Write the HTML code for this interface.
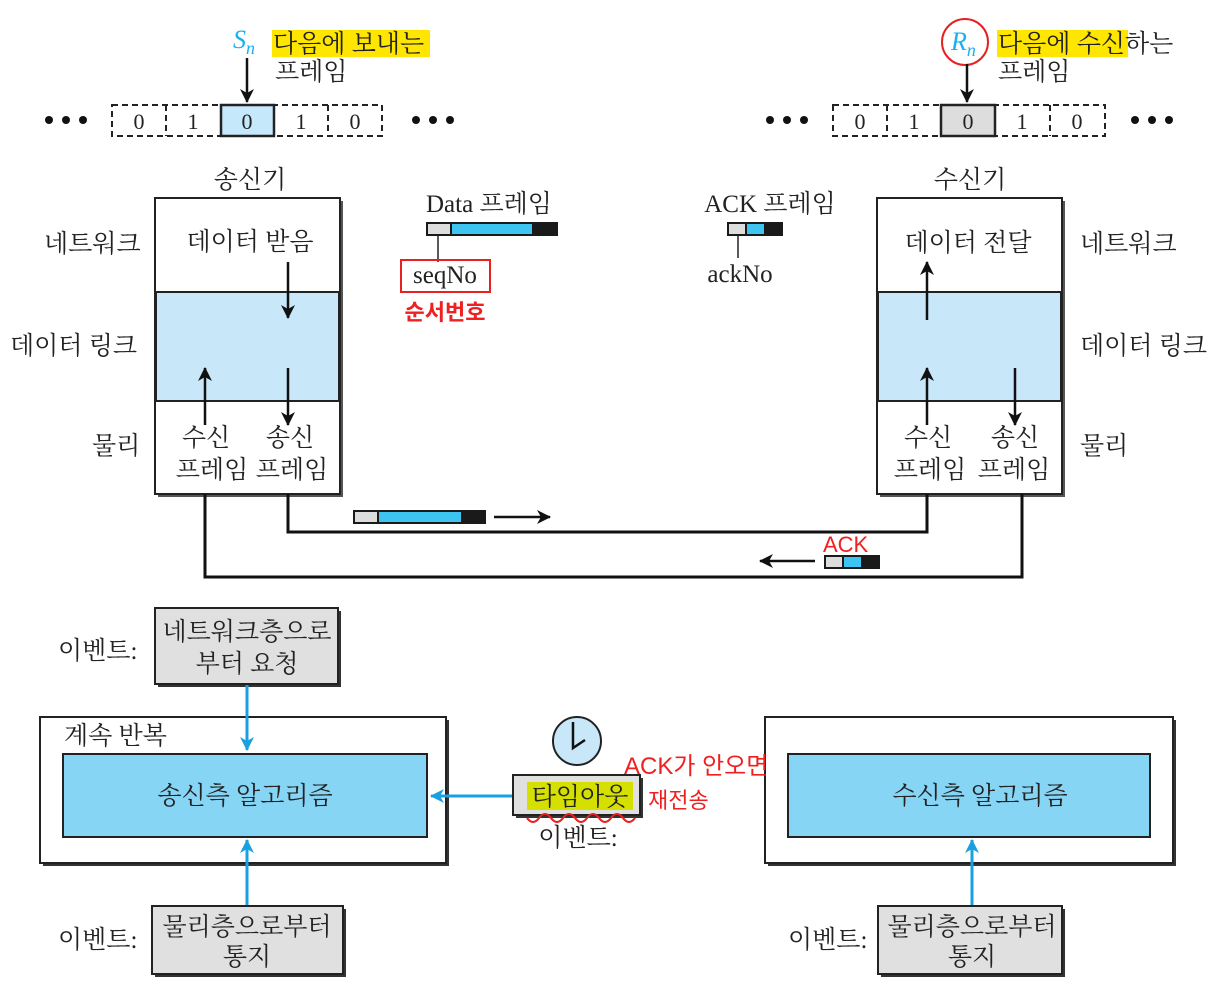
<!DOCTYPE html>
<html><head><meta charset="utf-8"><style>
body{margin:0;background:#fff}
svg text{font-family:"Liberation Serif","Noto Serif CJK SC","Noto Sans CJK KR",serif;fill:#222}
.r{fill:#f02020!important;font-family:"Liberation Sans","Noto Sans CJK KR",sans-serif!important}
</style></head><body>
<svg width="1232" height="1000" viewBox="0 0 1232 1000" xmlns="http://www.w3.org/2000/svg">
<defs>
<marker id="ak" markerWidth="14" markerHeight="14" refX="13" refY="7" orient="auto" markerUnits="userSpaceOnUse"><path d="M0,0 L14,7 L0,14 L4,7z" fill="#111"/></marker>
<marker id="ab" markerWidth="14" markerHeight="14" refX="13" refY="7" orient="auto" markerUnits="userSpaceOnUse"><path d="M0,0 L14,7 L0,14 L4,7z" fill="#1aa0e0"/></marker>
</defs>
<g fill="#111">
<circle cx="49" cy="120" r="4"/><circle cx="66" cy="120" r="4"/><circle cx="83" cy="120" r="4"/>
<circle cx="416" cy="120" r="4"/><circle cx="433" cy="120" r="4"/><circle cx="450" cy="120" r="4"/>
<circle cx="770" cy="120" r="4"/><circle cx="787" cy="120" r="4"/><circle cx="804" cy="120" r="4"/>
<circle cx="1135" cy="120" r="4"/><circle cx="1152" cy="120" r="4"/><circle cx="1169" cy="120" r="4"/>
</g>
<g stroke="#222" stroke-width="2" fill="none" stroke-dasharray="6,4">
<rect x="112" y="105" width="270" height="31"/>
<line x1="166" y1="105" x2="166" y2="136"/><line x1="328" y1="105" x2="328" y2="136"/>
<rect x="833" y="105" width="272" height="31"/>
<line x1="887" y1="105" x2="887" y2="136"/><line x1="1050" y1="105" x2="1050" y2="136"/>
</g>
<rect x="221" y="105" width="53" height="31" fill="#c5e8fa" stroke="#222" stroke-width="2.5"/>
<rect x="941" y="105" width="54" height="31" fill="#ddd" stroke="#222" stroke-width="2.5"/>
<g font-size="22" text-anchor="middle">
<text x="139" y="129">0</text><text x="193" y="129">1</text><text x="247" y="129">0</text><text x="301" y="129">1</text><text x="355" y="129">0</text>
<text x="860" y="129">0</text><text x="914" y="129">1</text><text x="968" y="129">0</text><text x="1022" y="129">1</text><text x="1077" y="129">0</text>
</g>
<text x="233" y="48" font-size="26" font-style="italic" style="fill:#1ab0ee">S<tspan font-size="18" dy="6">n</tspan></text>
<line x1="247" y1="58" x2="247" y2="102" stroke="#111" stroke-width="2.5" marker-end="url(#ak)"/>
<rect x="272" y="30" width="158" height="27" fill="#ffe600"/>
<text x="273" y="52" font-size="25">다음에 보내는</text>
<text x="275" y="80" font-size="25">프레임</text>
<circle cx="965" cy="42" r="23" fill="none" stroke="#e82020" stroke-width="2"/>
<text x="951" y="50" font-size="26" font-style="italic" style="fill:#1ab0ee">R<tspan font-size="18" dy="6">n</tspan></text>
<line x1="967" y1="64" x2="967" y2="102" stroke="#111" stroke-width="2.5" marker-end="url(#ak)"/>
<rect x="997" y="30" width="131" height="27" fill="#ffe600"/>
<text x="998" y="52" font-size="25">다음에 수신하는</text>
<text x="998" y="80" font-size="25">프레임</text>
<g>
<rect x="158" y="201" width="185" height="296" fill="#555"/>
<rect x="155" y="198" width="185" height="296" fill="#fff" stroke="#222" stroke-width="2"/>
<rect x="156" y="292" width="183" height="109" fill="#c8e8f9" stroke="#222" stroke-width="2"/>
<rect x="880" y="201" width="185" height="296" fill="#555"/>
<rect x="877" y="198" width="185" height="296" fill="#fff" stroke="#222" stroke-width="2"/>
<rect x="878" y="292" width="183" height="109" fill="#c8e8f9" stroke="#222" stroke-width="2"/>
</g>
<g font-size="25">
<text x="250" y="188" text-anchor="middle">송신기</text>
<text x="970" y="188" text-anchor="middle">수신기</text>
<text x="44" y="252">네트워크</text><text x="10" y="354">데이터 링크</text><text x="92" y="454">물리</text>
<text x="1080" y="252">네트워크</text><text x="1080" y="354">데이터 링크</text><text x="1080" y="454">물리</text>
<text x="250" y="250" text-anchor="middle">데이터 받음</text>
<text x="968" y="251" text-anchor="middle">데이터 전달</text>
<text x="206" y="446" text-anchor="middle">수신</text><text x="212" y="478" text-anchor="middle">프레임</text>
<text x="290" y="446" text-anchor="middle">송신</text><text x="292" y="478" text-anchor="middle">프레임</text>
<text x="928" y="446" text-anchor="middle">수신</text><text x="930" y="478" text-anchor="middle">프레임</text>
<text x="1015" y="446" text-anchor="middle">송신</text><text x="1014" y="478" text-anchor="middle">프레임</text>
</g>
<g stroke="#111" stroke-width="2.5" fill="none">
<line x1="288" y1="262" x2="288" y2="318" marker-end="url(#ak)"/>
<line x1="288" y1="368" x2="288" y2="425" marker-end="url(#ak)"/>
<line x1="205" y1="425" x2="205" y2="368" marker-end="url(#ak)"/>
<line x1="927" y1="320" x2="927" y2="262" marker-end="url(#ak)"/>
<line x1="927" y1="425" x2="927" y2="368" marker-end="url(#ak)"/>
<line x1="1015" y1="368" x2="1015" y2="425" marker-end="url(#ak)"/>
<polyline points="288,494 288,532 927,532 927,494" stroke-width="3"/>
<polyline points="205,494 205,577 1022,577 1022,494" stroke-width="3"/>
<line x1="494" y1="517" x2="550" y2="517" marker-end="url(#ak)"/>
<line x1="815" y1="561" x2="760" y2="561" marker-end="url(#ak)"/>
</g>
<text x="426" y="212" font-size="25">Data 프레임</text>
<rect x="426" y="222" width="132" height="14" fill="#1a1a1a"/><rect x="428" y="224" width="22" height="10" fill="#ddd"/><rect x="452" y="224" width="80" height="10" fill="#3ec4f0"/>
<line x1="438" y1="236" x2="438" y2="262" stroke="#222" stroke-width="1.5"/>
<rect x="401" y="260" width="89" height="32" fill="none" stroke="#e82020" stroke-width="2"/>
<text x="445" y="283" font-size="25" text-anchor="middle">seqNo</text>
<text x="445" y="320" font-size="22" class="r" text-anchor="middle" font-weight="bold">순서번호</text>
<text x="770" y="212" font-size="25" text-anchor="middle">ACK 프레임</text>
<rect x="727" y="222" width="56" height="14" fill="#1a1a1a"/><rect x="729" y="224" width="16" height="10" fill="#ddd"/><rect x="747" y="224" width="17" height="10" fill="#3ec4f0"/>
<line x1="738" y1="236" x2="738" y2="258" stroke="#222" stroke-width="1.5"/>
<text x="740" y="282" font-size="25" text-anchor="middle">ackNo</text>
<rect x="353" y="510" width="133" height="14" fill="#1a1a1a"/><rect x="355" y="512" width="22" height="10" fill="#ddd"/><rect x="379" y="512" width="82" height="10" fill="#3ec4f0"/>
<rect x="824" y="555" width="56" height="14" fill="#1a1a1a"/><rect x="826" y="557" width="16" height="10" fill="#ddd"/><rect x="844" y="557" width="17" height="10" fill="#3ec4f0"/>
<text x="823" y="552" font-size="22" class="r">ACK</text>
<g>
<rect x="158" y="611" width="183" height="76" fill="#333"/><rect x="155" y="608" width="183" height="76" fill="#e0e0e0" stroke="#222" stroke-width="2"/>
<rect x="43" y="720" width="406" height="146" fill="#333"/><rect x="40" y="717" width="406" height="146" fill="#fff" stroke="#222" stroke-width="2"/>
<rect x="63" y="754" width="364" height="83" fill="#86d5f5" stroke="#222" stroke-width="2"/>
<rect x="155" y="909" width="191" height="68" fill="#333"/><rect x="152" y="906" width="191" height="68" fill="#e0e0e0" stroke="#222" stroke-width="2"/>
<rect x="768" y="720" width="408" height="146" fill="#333"/><rect x="765" y="717" width="408" height="146" fill="#fff" stroke="#222" stroke-width="2"/>
<rect x="788" y="754" width="362" height="83" fill="#86d5f5" stroke="#222" stroke-width="2"/>
<rect x="881" y="909" width="184" height="68" fill="#333"/><rect x="878" y="906" width="184" height="68" fill="#e0e0e0" stroke="#222" stroke-width="2"/>
<rect x="516" y="778" width="127" height="40" fill="#333"/><rect x="513" y="775" width="127" height="40" fill="#e0e0e0" stroke="#222" stroke-width="2"/>
<rect x="527" y="782" width="106" height="28" fill="#d6e000"/>
<circle cx="577" cy="741" r="24" fill="#c8e8f9" stroke="#222" stroke-width="2"/>
<polyline points="573,722 573,748 585,740" fill="none" stroke="#111" stroke-width="2.5"/>
</g>
<g stroke="#1aa0e0" stroke-width="3" fill="none">
<line x1="247" y1="685" x2="247" y2="750" marker-end="url(#ab)"/>
<line x1="247" y1="905" x2="247" y2="840" marker-end="url(#ab)"/>
<line x1="512" y1="796" x2="431" y2="796" marker-end="url(#ab)"/>
<line x1="972" y1="905" x2="972" y2="840" marker-end="url(#ab)"/>
</g>
<g font-size="25">
<text x="247" y="640" text-anchor="middle">네트워크층으로</text><text x="247" y="672" text-anchor="middle">부터 요청</text>
<text x="58" y="659">이벤트:</text>
<text x="64" y="744">계속 반복</text>
<text x="245" y="804" text-anchor="middle">송신측 알고리즘</text>
<text x="980" y="804" text-anchor="middle">수신측 알고리즘</text>
<text x="247" y="935" text-anchor="middle">물리층으로부터</text><text x="247" y="965" text-anchor="middle">통지</text>
<text x="58" y="948">이벤트:</text>
<text x="972" y="935" text-anchor="middle">물리층으로부터</text><text x="972" y="965" text-anchor="middle">통지</text>
<text x="788" y="948">이벤트:</text>
<text x="580" y="805" text-anchor="middle">타임아웃</text>
<text x="578" y="846" text-anchor="middle">이벤트:</text>
</g>
<path d="M527,818 q6,8 12,0 t12,0 t12,0 t12,0 t12,0 t12,0 t12,0 t12,0 t12,0" fill="none" stroke="#e82020" stroke-width="2"/>
<text x="624" y="774" font-size="24" class="r">ACK가 안오면</text>
<text x="648" y="808" font-size="22" class="r">재전송</text>
</svg>
</body></html>
